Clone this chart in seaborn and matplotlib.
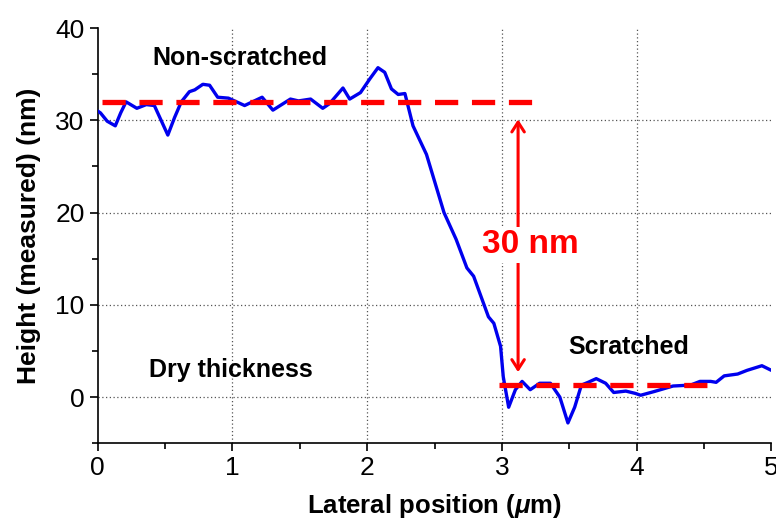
import numpy as np
import pandas as pd
import seaborn as sns
import matplotlib.pyplot as plt

# height profile
position = [0.0, 0.02, 0.07, 0.13, 0.17, 0.21, 0.29, 0.36, 0.42, 0.47, 0.52, 0.57, 0.62, 0.68, 0.72, 0.78, 0.83,
            0.89, 0.97, 1.09, 1.22, 1.30, 1.43, 1.49, 1.58, 1.67, 1.72, 1.82, 1.87, 1.95,
            2.02, 2.08, 2.13, 2.18, 2.23, 2.28, 2.34, 2.44, 2.57, 2.66, 2.74, 2.79, 2.90,
            2.94, 2.99, 3.01, 3.05, 3.10, 3.15, 3.21, 3.28, 3.36, 3.43, 3.49, 3.54, 3.59,
            3.64, 3.70, 3.77, 3.83, 3.92, 3.99, 4.03, 4.13, 4.27, 4.40, 4.47, 4.55, 4.59,
            4.65, 4.75, 4.82, 4.93, 5.0]
height = [31.0, 30.8, 29.9, 29.4, 30.8, 32.0, 31.3, 31.7, 31.6, 30.0, 28.4, 30.3, 32.0, 33.1, 33.3, 33.9, 33.8,
          32.5, 32.4, 31.6, 32.5, 31.1, 32.3, 32.1, 32.3, 31.3, 31.8, 33.5, 32.3, 33.0,
          34.5, 35.7, 35.2, 33.4, 32.8, 32.9, 29.4, 26.3, 20.0, 17.1, 14.0, 13.1, 8.7,
          8.0, 5.5, 2.2, -1.1, 0.8, 1.7, 0.8, 1.5, 1.5, 0.0, -2.8, -1.1, 1.3,
          1.6, 2.0, 1.5, 0.5, 0.65, 0.4, 0.2, 0.6, 1.2, 1.3, 1.7, 1.7, 1.6,
          2.3, 2.5, 2.9, 3.4, 2.9]

top_level = 32.0
top_range = [0.03, 3.31]
bottom_level = 1.3
bottom_range = [2.98, 4.58]
step_label = "30 nm"

df = pd.DataFrame({"x": position, "h": height})

sns.set_style("ticks", {"text.color": "black", "axes.labelcolor": "black",
                        "xtick.color": "black", "ytick.color": "black",
                        "axes.edgecolor": "black"})
plt.rcParams["font.family"] = ["Liberation Sans", "DejaVu Sans"]
plt.rcParams["mathtext.fontset"] = "custom"
plt.rcParams["mathtext.it"] = "Liberation Sans:italic:bold"

fig = plt.figure(figsize=(7.76, 5.19), dpi=100)
ax = fig.add_axes([0.126, 0.146, 0.868, 0.8])

for gx in [1, 2, 3, 4]:
    ax.axvline(gx, color="#555555", ls=(0, (1, 2)), lw=0.9, zorder=0)
for gy in [0, 10, 20, 30]:
    ax.axhline(gy, color="#555555", ls=(0, (1, 2)), lw=0.9, zorder=0)

sns.lineplot(data=df, x="x", y="h", color="#0000ee", lw=2.4, ax=ax, zorder=3)

dash = (0, (4.4, 2.6))
ax.plot(top_range, [top_level] * 2, color="#ff0000", lw=3.8, ls=dash, zorder=4)
ax.plot(bottom_range, [bottom_level] * 2, color="#ff0000", lw=3.8, ls=dash, zorder=4)

ax.annotate("", xy=(3.12, 30.4), xytext=(3.12, 2.4),
            arrowprops=dict(arrowstyle="<->,head_length=0.7,head_width=0.45",
                            color="#ff0000", lw=2.2), zorder=5)
ax.text(3.21, 16.5, step_label, color="#ff0000", fontsize=24, fontweight="bold",
        ha="center", va="center", zorder=6,
        bbox=dict(facecolor="white", edgecolor="none", pad=2))

ax.text(1.055, 36.8, "Non-scratched", fontsize=18, fontweight="bold", ha="center", va="center")
ax.text(0.99, 2.9, "Dry thickness", fontsize=18, fontweight="bold", ha="center", va="center")
ax.text(3.945, 5.4, "Scratched", fontsize=18, fontweight="bold", ha="center", va="center")

ax.set_xlim(0, 5)
ax.set_ylim(-5, 40)
ax.set_xticks([0, 1, 2, 3, 4, 5])
ax.set_yticks([0, 10, 20, 30, 40])
ax.set_xticks(np.arange(0.5, 5, 1), minor=True)
ax.set_yticks([-5, 5, 15, 25, 35], minor=True)
ax.tick_params(which="major", length=6, width=1.2, labelsize=19, direction="out")
ax.tick_params(which="minor", length=4, width=1.2, direction="out")
sns.despine(ax=ax)
for s in ["left", "bottom"]:
    ax.spines[s].set_linewidth(1.2)

ax.set_xlabel(r"Lateral position ($\mu$m)", fontsize=18.5, fontweight="bold", labelpad=8)
ax.set_ylabel("Height (measured) (nm)", fontsize=19, fontweight="bold", labelpad=10)

fig.savefig("out.png", dpi=100)
